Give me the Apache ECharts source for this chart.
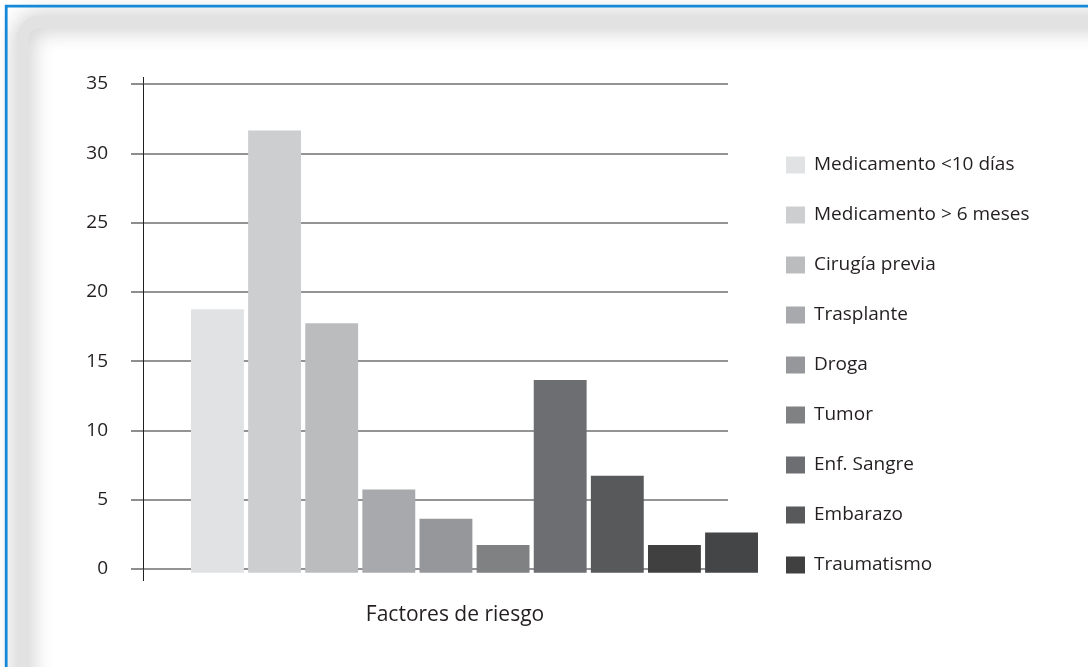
<!DOCTYPE html>
<html>
<head>
<meta charset="utf-8">
<script src="https://cdn.jsdelivr.net/npm/echarts@6/dist/echarts.min.js"></script>
<style>
  html, body { margin: 0; padding: 0; background: #ffffff; }
  #chart { width: 1088px; height: 667px; }
</style>
</head>
<body>
<div id="chart"></div>
<script>
// Factores de riesgo: one bar per factor, on a 0–35 value scale
const categories = ['Factores de riesgo'];
const seriesNames = [
  'Medicamento <10 días',
  'Medicamento > 6 meses',
  'Cirugía previa',
  'Trasplante',
  'Droga',
  'Tumor',
  'Enf. Sangre',
  'Embarazo',
  'Traumatismo',
  'Traumatismo'
];
const seriesValues = [19, 31.9, 18, 6, 3.9, 2, 13.9, 7, 2, 2.9];
const seriesColors = [
  '#e1e2e3', '#cdced0', '#bbbcbe', '#a8a9ac', '#96979a',
  '#808183', '#6d6e71', '#58595b', '#404041', '#444546'
];
const legendNames = seriesNames.slice(0, 9);
const yTicks = { min: 0, max: 35, interval: 5 };

const FONT = '"Open Sans", "Noto Sans", sans-serif';
const chart = echarts.init(document.getElementById('chart'), null, { renderer: 'canvas' });

const barSeries = seriesNames.map((name, i) => ({
  type: 'bar',
  name: name,
  xAxisIndex: 2,
  yAxisIndex: 1,
  data: [seriesValues[i]],
  itemStyle: { color: seriesColors[i] },
  barGap: '8%',
  barCategoryGap: '0%',
  silent: true,
  z: 3
}));

chart.setOption({
  animation: false,
  backgroundColor: '#ffffff',
  textStyle: { fontFamily: FONT },
  graphic: [
    {
      // soft grey panel edge
      type: 'rect',
      shape: { x: 23, y: 22, width: 1300, height: 900, r: 16 },
      style: {
        fill: null,
        stroke: '#e2e2e2',
        lineWidth: 12,
        shadowBlur: 22,
        shadowColor: 'rgba(0,0,0,0.3)'
      },
      silent: true,
      z: -10
    },
    {
      // blue outer frame
      type: 'rect',
      shape: { x: 6.2, y: 6.2, width: 1300, height: 900 },
      style: { fill: null, stroke: '#1589d8', lineWidth: 2.8 },
      silent: true,
      z: -5
    }
  ],
  title: {
    text: 'Factores de riesgo',
    left: 450,
    top: 600,
    textAlign: 'center',
    textStyle: { fontFamily: FONT, fontSize: 21, fontWeight: 'normal', color: '#231f20' }
  },
  legend: {
    data: legendNames,
    orient: 'vertical',
    left: 786,
    top: 155,
    padding: 0,
    itemWidth: 19,
    itemHeight: 17,
    itemGap: 30,
    icon: 'rect',
    selectedMode: false,
    textStyle: {
      fontFamily: FONT,
      fontSize: 19,
      color: '#231f20',
      lineHeight: 20,
      padding: [0, 0, 0, 4]
    }
  },
  grid: [
    { left: 143, top: 84, width: 585, height: 485, containLabel: false },
    { left: 191, top: 87.6, width: 567, height: 485.1, containLabel: false }
  ],
  xAxis: [
    {
      // bottom stub of the value axis, below the zero line
      type: 'value', gridIndex: 0, min: 0, max: 1, position: 'bottom',
      axisLine: { show: false },
      axisTick: { show: true, length: 12, customValues: [0], lineStyle: { color: '#231f20', width: 1 } },
      axisLabel: { show: false },
      splitLine: { show: false }
    },
    {
      // top stub of the value axis, above the 35 line
      type: 'value', gridIndex: 0, min: 0, max: 1, position: 'top',
      axisLine: { show: false },
      axisTick: { show: true, length: 7, customValues: [0], lineStyle: { color: '#231f20', width: 1 } },
      axisLabel: { show: false },
      splitLine: { show: false }
    },
    {
      type: 'category', gridIndex: 1, data: categories,
      axisLine: { show: false },
      axisTick: { show: false },
      axisLabel: { show: false },
      splitLine: { show: false }
    }
  ],
  yAxis: [
    {
      type: 'value', gridIndex: 0,
      min: yTicks.min, max: yTicks.max, interval: yTicks.interval,
      axisLine: { show: true, lineStyle: { color: '#231f20', width: 1 } },
      axisTick: { show: true, length: 12, lineStyle: { color: '#707173', width: 1.6 } },
      axisLabel: { show: true, margin: 35, fontFamily: FONT, fontSize: 19, color: '#231f20' },
      splitLine: { show: true, lineStyle: { color: '#707173', width: 1.6 } },
      z: 1
    },
    {
      type: 'value', gridIndex: 1,
      min: yTicks.min, max: yTicks.max, interval: yTicks.interval,
      axisLine: { show: false },
      axisTick: { show: false },
      axisLabel: { show: false },
      splitLine: { show: false }
    }
  ],
  series: barSeries
});
</script>
</body>
</html>
